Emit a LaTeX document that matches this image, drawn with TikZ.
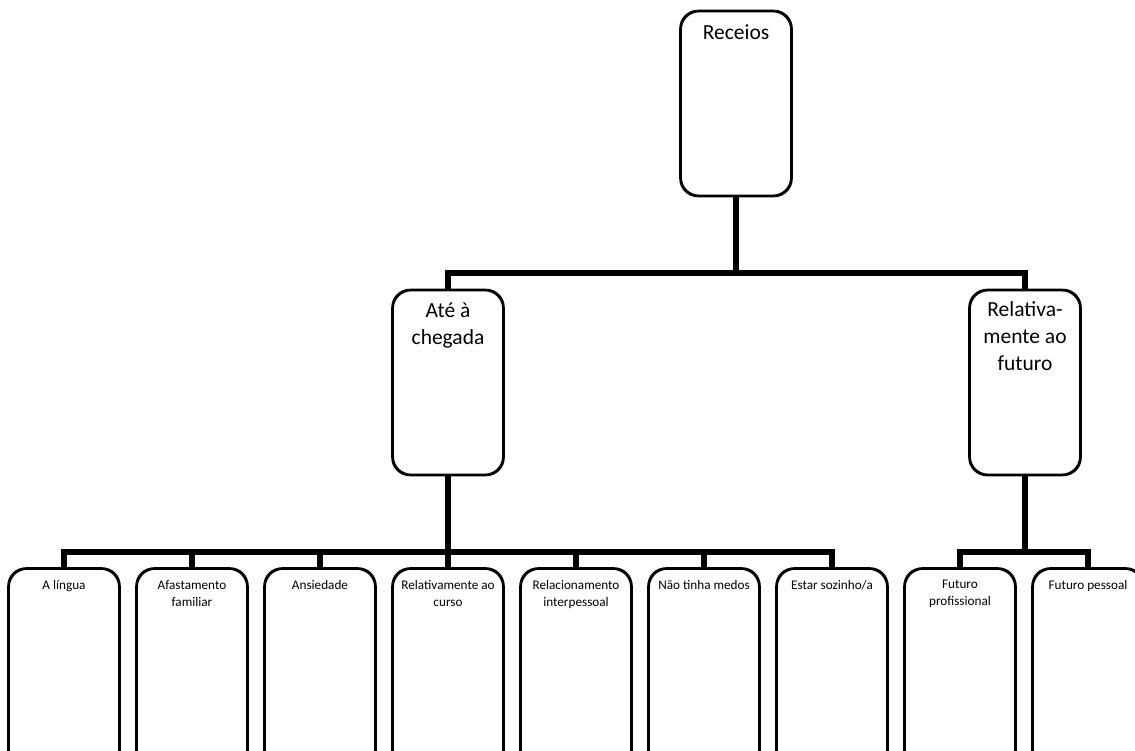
\documentclass[tikz,border=0pt]{standalone}
\usepackage{fontspec}
\setmainfont{Carlito}
\begin{document}
\begin{tikzpicture}[x=1pt,y=-1pt,
  box/.style={draw=black,line width=1.8pt,rounded corners=18pt,fill=white,inner sep=0pt},
  bigbox/.style={box,minimum width=110pt,minimum height=184pt},
  smallbox/.style={box,minimum width=110pt,minimum height=230pt},
  bigtxt/.style={font=\fontsize{21.5}{27}\selectfont,align=center,inner sep=0pt,anchor=north},
  smalltxt/.style={font=\fontsize{13.2}{17}\selectfont,align=center,inner sep=0pt,anchor=north},
  conn/.style={draw=black,line width=6pt,line join=miter}]
\useasboundingbox (0,0) rectangle (1135,751);
\fill[white] (0,0) rectangle (1135,751);
% top level
\node[bigbox] (rec) at (736,103.5) {};
\node[bigtxt] (recT) at ([yshift=-14pt]rec.north) {Receios};
\node[bigbox] (ate) at (448,382.5) {};
\node[bigtxt] (ateT) at ([yshift=-13pt]ate.north) {Até à\\chegada};
\node[bigbox] (rel) at (1025,382.5) {};
\node[bigtxt] (relT) at ([yshift=-12pt]rel.north) {Relativa-\\mente ao\\futuro};
% bottom row
\foreach \i/\t in {1/{A língua},2/{Afastamento\\familiar},3/{Ansiedade},4/{Relativamente ao\\curso},5/{Relacionamento\\interpessoal},6/{Não tinha medos},7/{Estar sozinho/a},8/{Futuro\\profissional},9/{Futuro pessoal}}{
  \node[smallbox] (b\i) at ({64+128*(\i-1)},684) {};
  \node[smalltxt] (b\i T) at ([yshift=-12pt]b\i.north) {\t};
}
% junctions
\coordinate (j1) at (736,273);
\coordinate (j2) at (448,552);
\coordinate (j3) at (1025,552);
% connectors
\draw[conn] (rec.south) -- (j1);
\draw[conn] (ate.north) |- (j1) -| (rel.north);
\draw[conn] (ate.south) -- (b4.north);
\draw[conn] (b1.north) |- (j2) -| (b7.north);
\foreach \i in {2,3,5,6}{
  \draw[conn] (b\i.north) -- (b\i.north |- j2);
}
\draw[conn] (rel.south) -- (j3);
\draw[conn] (b8.north) |- (j3) -| (b9.north);
% redraw box outlines over connector ends
\foreach \n in {rec,ate,rel,b1,b2,b3,b4,b5,b6,b7,b8,b9}{
  \draw[line width=1.8pt,rounded corners=18pt] (\n.north west) rectangle (\n.south east);
}
\end{tikzpicture}
\end{document}
